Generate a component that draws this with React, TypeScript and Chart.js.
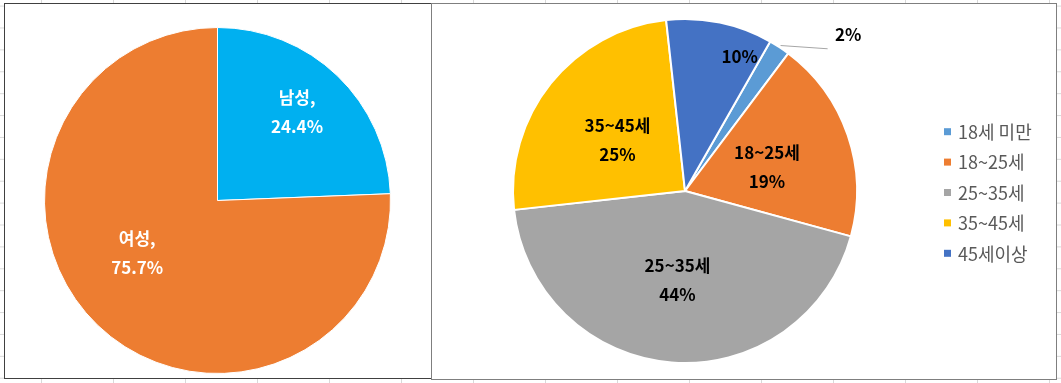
import React, { useEffect, useRef } from 'react';
import { Chart, registerables } from 'chart.js';

Chart.register(...registerables);

// ---- data ----
const genderLabels = ['남성', '여성'];
const genderValues = [24.4, 75.7];
const genderColors = ['#00B0F0', '#ED7D31'];

const ageLabels = ['18세 미만', '18~25세', '25~35세', '35~45세', '45세이상'];
const ageValues = [2, 19, 44, 25, 10];
const ageColors = ['#5B9BD5', '#ED7D31', '#A5A5A5', '#FFC000', '#4472C4'];

// ---- label placement (layout only) ----
type Place = { r: number; da: number; name: boolean; outside?: boolean };
const genderPlacement: Place[] = [
  { r: 0.686, da: -1.8, name: true },
  { r: 0.554, da: 13.1, name: true },
];
const agePlacement: Place[] = [
  { r: 1.314, da: 12.9, name: false, outside: true },
  { r: 0.496, da: 2.9, name: true },
  { r: 0.522, da: 0.3, name: true },
  { r: 0.49, da: -1.9, name: true },
  { r: 0.844, da: 10.4, name: false },
];

const FONT = '"Noto Sans CJK KR", "Noto Sans", sans-serif';

const sliceLabelPlugin = {
  id: 'sliceLabels',
  afterDatasetsDraw(chart: any, _args: any, opts: any) {
    const { ctx } = chart;
    const meta = chart.getDatasetMeta(0);
    const labels: string[] = chart.data.labels;
    const values: number[] = chart.data.datasets[0].data;
    ctx.save();
    ctx.font = `bold 17px ${FONT}`;
    ctx.textAlign = 'center';
    ctx.textBaseline = 'middle';
    meta.data.forEach((arc: any, i: number) => {
      const p: Place = opts.placements[i];
      const { x, y, startAngle, endAngle, outerRadius } = arc.getProps(
        ['x', 'y', 'startAngle', 'endAngle', 'outerRadius'],
        true
      );
      const midA = (startAngle + endAngle) / 2;
      const a = midA + (p.da * Math.PI) / 180;
      const lx = x + Math.cos(a) * outerRadius * p.r;
      const ly = y + Math.sin(a) * outerRadius * p.r;
      const pct = opts.decimals ? values[i].toFixed(opts.decimals) : String(Math.round(values[i]));
      const lines = p.name ? [labels[i] + opts.sep, pct + '%'] : [pct + '%'];
      if (p.outside) {
        const sx = x + Math.cos(midA) * outerRadius * 1.012;
        const sy = y + Math.sin(midA) * outerRadius * 1.012;
        ctx.strokeStyle = '#A6A6A6';
        ctx.lineWidth = 1;
        ctx.beginPath();
        ctx.moveTo(sx, sy);
        ctx.lineTo(lx - 20.5, ly + 14.2);
        ctx.stroke();
      }
      ctx.fillStyle = opts.color;
      if (lines.length === 2) {
        ctx.fillText(lines[0], lx, ly - 14.5);
        ctx.fillText(lines[1], lx, ly + 14.5);
      } else {
        ctx.fillText(lines[0], lx, ly);
      }
    });
    ctx.restore();
  },
};

const sideLegendPlugin = {
  id: 'sideLegend',
  afterDraw(chart: any, _args: any, opts: any) {
    if (!opts || !opts.show) return;
    const { ctx, chartArea } = chart;
    const labels: string[] = chart.data.labels;
    const colors: string[] = chart.data.datasets[0].backgroundColor;
    ctx.save();
    ctx.font = `18px ${FONT}`;
    ctx.textAlign = 'left';
    ctx.textBaseline = 'middle';
    labels.forEach((lab, i) => {
      const cy = opts.top + i * opts.gap;
      const sx = chartArea.right + opts.dx;
      ctx.fillStyle = colors[i];
      ctx.fillRect(sx, cy - 3.5, 7, 7);
      ctx.fillStyle = '#595959';
      ctx.fillText(lab, sx + 14, cy + 0.5);
    });
    ctx.restore();
  },
};

function PieCanvas(props: {
  labels: string[];
  values: number[];
  colors: string[];
  width: number;
  height: number;
  padding: any;
  rotation: number;
  borderWidth: number;
  placements: Place[];
  labelColor: string;
  sep: string;
  decimals: number;
  legend: any;
  style: React.CSSProperties;
}) {
  const ref = useRef<HTMLCanvasElement | null>(null);
  useEffect(() => {
    if (!ref.current) return;
    const chart = new Chart(ref.current, {
      type: 'pie',
      data: {
        labels: props.labels,
        datasets: [
          {
            data: props.values,
            backgroundColor: props.colors,
            borderColor: '#FFFFFF',
            borderWidth: props.borderWidth,
          },
        ],
      },
      options: {
        responsive: false,
        animation: false,
        devicePixelRatio: 1,
        rotation: props.rotation,
        layout: { padding: props.padding },
        plugins: {
          legend: { display: false },
          tooltip: { enabled: false },
          sliceLabels: {
            placements: props.placements,
            color: props.labelColor,
            sep: props.sep,
            decimals: props.decimals,
          },
          sideLegend: props.legend,
        } as any,
      },
      plugins: [sliceLabelPlugin, sideLegendPlugin],
    });
    const fs: any = (document as any).fonts;
    if (fs && fs.load) {
      Promise.all([fs.load(`bold 17px ${FONT}`), fs.load(`18px ${FONT}`)])
        .then(() => chart.draw())
        .catch(() => {});
    }
    return () => chart.destroy();
  }, []);
  return (
    <canvas
      ref={ref}
      width={props.width}
      height={props.height}
      style={{ position: 'absolute', width: props.width, height: props.height, ...props.style }}
    />
  );
}

export default function App() {
  const grid = '#D9D9D9';
  return (
    <div
      style={{
        position: 'fixed',
        left: 0,
        top: 0,
        width: 1061,
        height: 383,
        overflow: 'hidden',
        backgroundColor: '#FFFFFF',
        backgroundImage: `linear-gradient(to right, ${grid} 1px, transparent 1px), linear-gradient(to bottom, ${grid} 1px, transparent 1px)`,
        backgroundSize: '72px 21.9px',
        backgroundPosition: '41px 5.6px',
      }}
    >
      <div
        style={{
          position: 'absolute',
          left: 4,
          top: 3,
          width: 426,
          height: 374,
          border: '1px solid #404040',
          background: '#FFFFFF',
        }}
      />
      <div
        style={{
          position: 'absolute',
          left: 431,
          top: 3,
          width: 624,
          height: 375,
          border: '1px solid #7F7F7F',
          background: '#FFFFFF',
        }}
      />
      <PieCanvas
        labels={genderLabels}
        values={genderValues}
        colors={genderColors}
        width={426}
        height={374}
        padding={{ left: 39, right: 40, top: 23, bottom: 4 }}
        rotation={0}
        borderWidth={1}
        placements={genderPlacement}
        labelColor="#FFFFFF"
        sep=","
        decimals={1}
        legend={{ show: false }}
        style={{ left: 5, top: 4 }}
      />
      <PieCanvas
        labels={ageLabels}
        values={ageValues}
        colors={ageColors}
        width={624}
        height={374}
        padding={{ left: 80, right: 198, top: 14, bottom: 14 }}
        rotation={29.7}
        borderWidth={2}
        placements={agePlacement}
        labelColor="#000000"
        sep=""
        decimals={0}
        legend={{ show: true, dx: 86, top: 127.7, gap: 30.4 }}
        style={{ left: 432, top: 4 }}
      />
    </div>
  );
}
